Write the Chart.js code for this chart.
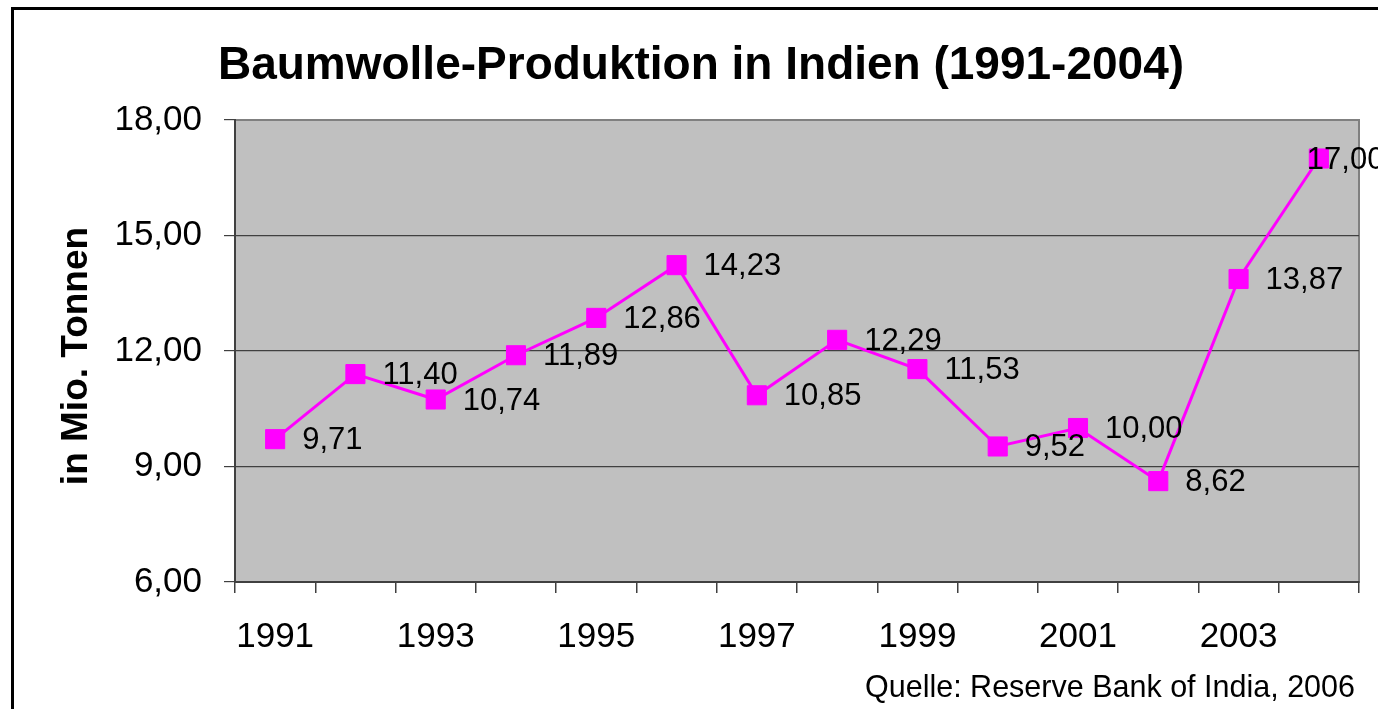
<!DOCTYPE html>
<html>
<head>
<meta charset="utf-8">
<script src="https://cdn.jsdelivr.net/npm/chart.js@4.4.1/dist/chart.umd.min.js"></script>
<style>
  html, body { margin: 0; padding: 0; background: #fff; overflow: hidden; }
  #wrap { position: relative; width: 1378px; height: 709px; }
</style>
</head>
<body>
<div id="wrap"><canvas id="chart" width="1378" height="709"></canvas></div>
<script>
const jahre = ['1991', '1992', '1993', '1994', '1995', '1996', '1997',
               '1998', '1999', '2000', '2001', '2002', '2003', '2004'];
const produktion = [9.71, 11.40, 10.74, 11.89, 12.86, 14.23, 10.85,
                    12.29, 11.53, 9.52, 10.00, 8.62, 13.87, 17.00];
const yTicks = [6, 9, 12, 15, 18];

const titel = 'Baumwolle-Produktion in Indien (1991-2004)';
const yTitel = 'in Mio. Tonnen';
const quelle = 'Quelle: Reserve Bank of India, 2006';

const FONT = 'Arial, "Liberation Sans", sans-serif';
const fmt = v => v.toFixed(2).replace('.', ',');

// grauer Plotbereich + Rahmen
const hintergrund = {
  id: 'hintergrund',
  beforeDraw(chart) {
    const { ctx, chartArea: a } = chart;
    ctx.save();
    ctx.fillStyle = '#C0C0C0';
    ctx.fillRect(a.left, a.top, a.right - a.left, a.bottom - a.top);
    ctx.strokeStyle = '#808080';
    ctx.lineWidth = 2;
    ctx.strokeRect(a.left, a.top, a.right - a.left, a.bottom - a.top);
    // schwarzer Rahmen um die Grafik
    ctx.fillStyle = '#000';
    ctx.fillRect(11, 7, 3, 709);
    ctx.fillRect(11, 7, 1378, 3);
    ctx.restore();
  }
};

// Texte: Titel, Achsentitel, Quelle, Datenbeschriftungen
const texte = {
  id: 'texte',
  afterDraw(chart) {
    const { ctx } = chart;
    ctx.save();
    ctx.fillStyle = '#000';

    ctx.font = 'bold 46px ' + FONT;
    ctx.textAlign = 'center';
    ctx.textBaseline = 'alphabetic';
    ctx.fillText(titel, 701, 79);

    ctx.save();
    ctx.translate(87, 356);
    ctx.rotate(-Math.PI / 2);
    ctx.font = 'bold 37px ' + FONT;
    ctx.fillText(yTitel, 0, 0);
    ctx.restore();

    ctx.font = '30.5px ' + FONT;
    ctx.textAlign = 'right';
    ctx.fillText(quelle, 1355, 697);

    const meta = chart.getDatasetMeta(0);
    ctx.textAlign = 'left';
    ctx.font = '31px ' + FONT;
    meta.data.forEach((pt, i) => {
      const dx = i === meta.data.length - 1 ? -12 : 27;
      ctx.fillText(fmt(produktion[i]), pt.x + dx, pt.y + 10);
    });
    ctx.restore();
  }
};

new Chart(document.getElementById('chart'), {
  type: 'line',
  data: {
    labels: jahre,
    datasets: [{
      data: produktion,
      borderColor: '#FF00FF',
      borderWidth: 3,
      backgroundColor: '#FF00FF',
      pointStyle: 'rect',
      pointRadius: 13.5,
      pointBorderWidth: 1,
      pointBorderColor: '#FF00FF',
      pointBackgroundColor: '#FF00FF',
      tension: 0
    }]
  },
  options: {
    responsive: false,
    animation: false,
    events: [],
    layout: { padding: { left: 0, right: 19, top: 120, bottom: 0 } },
    plugins: {
      legend: { display: false },
      title: { display: false },
      tooltip: { enabled: false }
    },
    scales: {
      x: {
        type: 'category',
        offset: true,
        afterFit: s => { s.height = 127; },
        grid: {
          display: true,
          offset: true,
          drawOnChartArea: false,
          drawTicks: true,
          tickLength: 11,
          color: '#404040',
          tickColor: '#404040',
          lineWidth: 1.5
        },
        border: { display: true, color: '#404040', width: 2 },
        ticks: {
          autoSkip: false,
          maxRotation: 0,
          padding: 23,
          color: '#000',
          font: { family: FONT, size: 35 },
          callback: (v, i) => i % 2 === 0 ? jahre[i] : ''
        }
      },
      y: {
        min: 6,
        max: 18,
        afterFit: s => { s.width = 235; },
        afterBuildTicks: s => { s.ticks = yTicks.map(v => ({ value: v })); },
        grid: {
          color: c => c.tick && c.tick.value === 18 ? '#808080' : '#404040',
          tickColor: '#404040',
          lineWidth: 1.2,
          tickLength: 11
        },
        border: { display: true, color: '#404040', width: 2 },
        ticks: {
          padding: 22,
          color: '#000',
          font: { family: FONT, size: 35 },
          callback: v => fmt(v)
        }
      }
    }
  },
  plugins: [hintergrund, texte]
});
</script>
</body>
</html>
